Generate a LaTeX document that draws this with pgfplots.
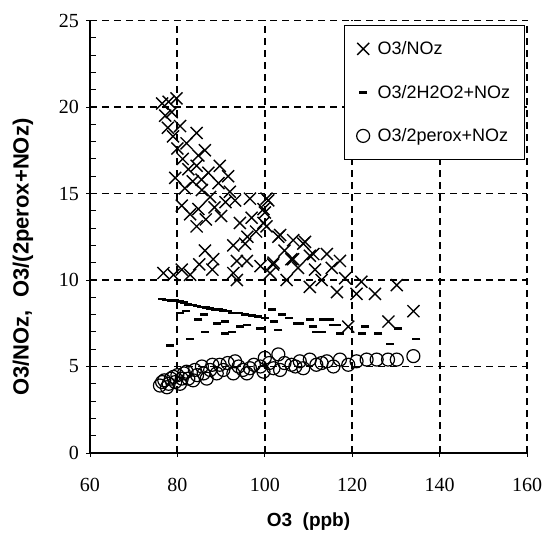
\documentclass[border=0pt]{standalone}
\usepackage{fontspec}
\setmainfont{Liberation Serif}
\newfontfamily\lsans{Liberation Sans}
\usepackage{pgfplots}
\pgfplotsset{compat=1.18}
\begin{document}
\begin{tikzpicture}
\begin{axis}[
  scale only axis, width=437bp, height=432.5bp,
  xmin=60, xmax=160, ymin=0, ymax=25,
  xtick={60,80,100,120,140,160}, ytick={0,5,10,15,20,25},
  minor y tick num=4,
  axis lines=left, axis line style={-, line width=1.1bp, black},
  tick style={black, line width=0.9bp},
  tick align=center, major tick length=7bp, minor tick length=6bp,
  minor tick style={xshift=3bp},
  grid=major,
  major grid style={black, line width=1.9bp, dash pattern=on 7bp off 5bp},
  /pgf/number format/assume math mode=true,
  ticklabel style={font=\fontsize{20bp}{24bp}\selectfont},
  xticklabel style={yshift=-18bp},
  yticklabel style={xshift=-4bp},
  xlabel={O3\ \ (ppb)}, ylabel={O3/NOz,\ \ O3/(2perox+NOz)},
  xlabel style={font=\lsans\bfseries\fontsize{19bp}{22bp}\selectfont, at={(rel axis cs:0.5,0)}, anchor=center, yshift=-69bp},
  ylabel style={font=\lsans\bfseries\fontsize{22bp}{26bp}\selectfont, at={(rel axis cs:0,0.453)}, anchor=center, yshift=67bp},
  legend style={at={(rel axis cs:0.995,0.9896)}, anchor=north east, draw=black, line width=1.2bp,
    font=\lsans\fontsize{18bp}{22bp}\selectfont, row sep=25bp, inner xsep=12bp, inner ysep=14bp, fill=white,
    /tikz/every odd column/.append style={column sep=6bp}},
  legend cell align=left,
  clip=false,
]
\addplot[only marks, mark=x, mark size=8.5bp, mark options={line width=1.4bp, black}] coordinates {
(76.8,10.4) (79.1,10.3) (81.0,10.6) (82.9,10.3) (79.5,15.9) (81.7,15.3) (81.0,14.3) (82.9,13.8)
(84.8,14.1) (84.4,13.1) (86.3,11.7) (88.2,11.2) (78.7,19.7) (80.6,18.9) (84.4,18.5) (82.1,17.9)
(86.3,17.5) (84.8,17.2) (84.4,16.6) (89.7,16.6) (87.1,16.2) (91.6,16.0) (89.4,15.6) (85.6,15.2)
(92.0,15.1) (93.2,14.6) (96.6,14.7) (100.4,14.7) (100.8,14.6) (99.7,14.1) (100.0,13.9) (94.3,13.3)
(99.7,13.3) (100.4,13.1) (103.5,12.6) (103.1,12.5) (106.5,12.3) (108.8,12.1) (109.2,12.2) (92.8,12.0)
(95.5,12.1) (93.6,11.1) (95.9,11.1) (102.0,11.0) (101.9,10.9) (106.5,11.2) (106.1,11.2) (111.1,11.5)
(114.2,11.5) (110.3,11.4) (117.2,11.1) (107.6,10.7) (111.5,10.6) (115.3,10.7) (92.8,10.4) (93.6,10.0)
(101.2,10.4) (105.0,10.0) (113.0,10.0) (118.4,10.1) (110.3,9.6) (116.5,9.3) (122.1,9.9)
(121.0,9.2) (125.2,9.2) (130.2,9.7) (134.0,8.2) (128.3,7.6) (119.1,7.3)
(76.5,20.2) (77.2,19.5) (78.0,20.3) (79.8,20.5) (77.8,18.8) (79.0,18.3) (80.0,17.6) (81.2,17.0)
(82.5,16.4) (83.5,15.7) (85.5,15.8) (87.5,14.8) (88.5,14.2) (90.0,13.7) (91.0,14.5) (86.5,13.5)
(97.0,13.6) (98.0,12.8) (96.0,12.5) (104.5,11.7) (99.0,10.8) (88.0,10.6) (85.0,10.9)
};
\addlegendentry{O3/NOz}
\addplot[only marks, mark=-, mark size=4bp, mark options={line width=2.6bp, black}] coordinates {
(76.5,8.9) (77.5,8.85) (78.5,8.8) (79.5,8.8) (80.5,8.75) (81.5,8.7) (82.5,8.6) (83.5,8.55)
(84.5,8.5) (85.5,8.45) (86.5,8.4) (87.5,8.35) (88.5,8.3) (89.5,8.3) (90.5,8.25) (91.5,8.2)
(92.5,8.1) (94.0,8.1) (95.5,8.0) (97.0,7.95) (98.5,7.9) (101.6,8.3) (103.9,8.0) (80.6,8.1)
(82.0,8.2) (84.8,7.7) (86.0,8.0) (89.0,7.5) (91.0,7.6) (94.3,7.3) (96.0,7.4) (86.3,7.0)
(90.9,6.9) (92.5,7.0) (82.9,6.6) (78.3,6.2) (103.1,7.1) (105.5,7.8) (107.3,7.5)
(108.1,7.5) (110.3,7.7) (111.1,7.3) (111.8,7.0) (113.0,7.0) (113.4,7.7) (114.9,7.7) (115.7,7.4)
(116.5,7.4) (117.2,6.9) (122.2,6.9) (122.9,7.3) (126.0,6.9) (130.5,7.2) (128.6,6.3) (134.7,6.6)
(100.0,7.8) (102.0,7.6) (99.0,7.2)
};
\addlegendentry{O3/2H2O2+NOz}
\addplot[only marks, mark=o, mark size=6.5bp, mark options={line width=1.2bp, black, fill=white}] coordinates {
(76.0,3.9) (76.5,4.1) (77.0,4.2) (77.6,3.8) (78.0,4.0) (78.5,4.3) (79.1,4.4) (79.5,4.1)
(80.0,4.5) (80.6,4.0) (81.0,4.3) (81.5,4.6) (82.1,4.7) (82.5,4.3) (83.6,4.2) (84.0,4.8)
(84.5,4.5) (85.6,5.0) (86.0,4.6) (86.7,4.3) (87.5,4.8) (88.0,5.1) (89.0,4.6) (89.7,5.1)
(90.5,4.8) (91.5,5.2) (92.8,4.6) (93.2,5.3) (94.0,5.0) (95.0,4.8) (95.9,4.6) (96.6,4.9)
(97.5,5.1) (99.0,5.0) (99.7,4.7) (100.0,5.5) (101.0,5.2) (102.0,4.9) (103.1,5.7) (103.5,4.8)
(104.5,5.2) (106.1,5.1) (107.0,5.0) (108.0,5.3) (108.8,4.9) (110.3,5.4) (111.8,5.1) (113.0,5.2)
(114.2,5.3) (115.7,5.0) (117.2,5.4) (119.1,5.1) (121.0,5.3) (123.3,5.4) (125.6,5.4) (128.2,5.4)
(130.2,5.4) (134.0,5.6)
};
\addlegendentry{O3/2perox+NOz}
\end{axis}
\pgfresetboundingbox
\path (current axis.south west) ++(-90bp,-82bp) rectangle ++(545bp,535bp);
\end{tikzpicture}
\end{document}
